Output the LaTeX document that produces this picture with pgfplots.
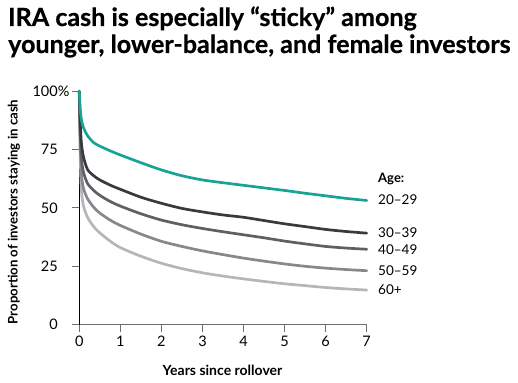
\documentclass[border=0pt]{standalone}
\usepackage{fontspec}
\setmainfont{Lato}
\newfontfamily\titlefont{Lato}[BoldFeatures={FakeBold=0.6}]
\usepackage{pgfplots}
\pgfplotsset{compat=1.18}
\definecolor{cteal}{RGB}{26,163,148}
\definecolor{cA}{RGB}{58,58,62}
\definecolor{cB}{RGB}{96,96,100}
\definecolor{cC}{RGB}{136,136,140}
\definecolor{cD}{RGB}{182,182,186}
\definecolor{axgray}{RGB}{110,110,110}
\begin{document}
\begin{tikzpicture}
\path[use as bounding box] (0pt,0pt) rectangle (518pt,382pt);
\node[anchor=base west, inner sep=0, font=\titlefont\bfseries\fontsize{25.1}{28}\selectfont] at (8pt,356pt) {IRA cash is especially “sticky” among};
\node[anchor=base west, inner sep=0, font=\titlefont\bfseries\fontsize{25.1}{28}\selectfont] at (8pt,329pt) {younger, lower-balance, and female investors};
\begin{axis}[
  at={(79.3pt,57.4pt)}, anchor=south west,
  scale only axis, width=287.4pt, height=233.3pt,
  xmin=0, xmax=7, ymin=0, ymax=100,
  axis lines*=left,
  x axis line style={axgray, line width=1pt},
  y axis line style={black, line width=1pt},
  xtick={0,1,2,3,4,5,6,7},
  xticklabels={0,1,2,3,4,5,6,7},
  ytick={0,25,50,75,100},
  yticklabels={0,25,50,75,100\rlap{\%}},
  tick align=outside,
  major tick length=7pt,
  tick style={axgray, line width=1pt},
  /pgf/number format/assume math mode=true,
  tick label style={font=\fontsize{14.5}{16}\selectfont, text=black},
  yticklabel style={anchor=east, xshift=-11pt},
  xticklabel style={anchor=north, yshift=-1pt},
  clip=false,
  every axis plot/.append style={line width=2.7pt, line cap=round, line join=round, smooth, tension=0.45},
]
\addplot[cD] coordinates {(0,100)(0.02,75)(0.05,58)(0.1,51)(0.2,46)(0.35,42)(0.5,39.3)(0.75,35.8)(1,33)(1.5,29.3)(2,26.3)(2.5,24)(3,22.2)(3.5,20.8)(4,19.6)(4.5,18.5)(5,17.5)(5.5,16.7)(6,15.9)(6.5,15.3)(7,14.8)};
\addplot[cC] coordinates {(0,100)(0.02,80)(0.05,65)(0.1,58.5)(0.2,54)(0.35,50.3)(0.5,47.8)(0.75,44.8)(1,42.5)(1.5,38.8)(2,35.7)(2.5,33.5)(3,31.6)(3.5,30)(4,28.5)(4.5,27.2)(5,26)(5.5,25)(6,24.2)(6.5,23.6)(7,23.1)};
\addplot[cB] coordinates {(0,100)(0.02,84)(0.05,71.5)(0.1,65.5)(0.2,60.5)(0.35,57.5)(0.5,55.4)(0.75,52.8)(1,50.8)(1.5,47.5)(2,44.8)(2.5,42.8)(3,41.2)(3.5,39.8)(4,38.5)(4.5,37.2)(5,35.8)(5.5,34.6)(6,33.5)(6.5,32.8)(7,32.3)};
\addplot[cA] coordinates {(0,100)(0.02,88)(0.05,78)(0.1,72)(0.2,66.5)(0.35,63.8)(0.5,62)(0.75,59.8)(1,58)(1.5,54.6)(2,52)(2.5,49.8)(3,48.3)(3.5,47)(4,46)(4.5,44.6)(5,43.2)(5.5,42)(6,40.8)(6.5,39.9)(7,39.2)};
\addplot[cteal] coordinates {(0,100)(0.02,93)(0.05,88)(0.1,84.5)(0.2,81)(0.35,78)(0.5,76.5)(0.75,74.5)(1,72.7)(1.5,69.4)(2,66.3)(2.5,63.8)(3,62)(3.5,60.8)(4,59.7)(4.5,58.6)(5,57.5)(5.5,56.3)(6,55.2)(6.5,54.1)(7,53.2)};
\end{axis}
\begin{scope}[every node/.style={anchor=west, inner sep=0, font=\fontsize{13.5}{16}\selectfont}]
\node[font=\bfseries\fontsize{13}{16}\selectfont] at (378pt,202.7pt) {Age:};
\node at (378pt,182.7pt) {20–29};
\node at (378pt,149.3pt) {30–39};
\node at (378pt,132pt) {40–49};
\node at (378pt,111.3pt) {50–59};
\node at (378pt,92.7pt) {60+};
\end{scope}
\node[font=\bfseries\fontsize{14}{16}\selectfont, inner sep=0] at (222.5pt,12pt) {Years since rollover};
\node[font=\bfseries\fontsize{13.2}{14}\selectfont, inner sep=0, rotate=90] at (14pt,170pt) {Proportion of investors staying in cash};
\end{tikzpicture}
\end{document}
